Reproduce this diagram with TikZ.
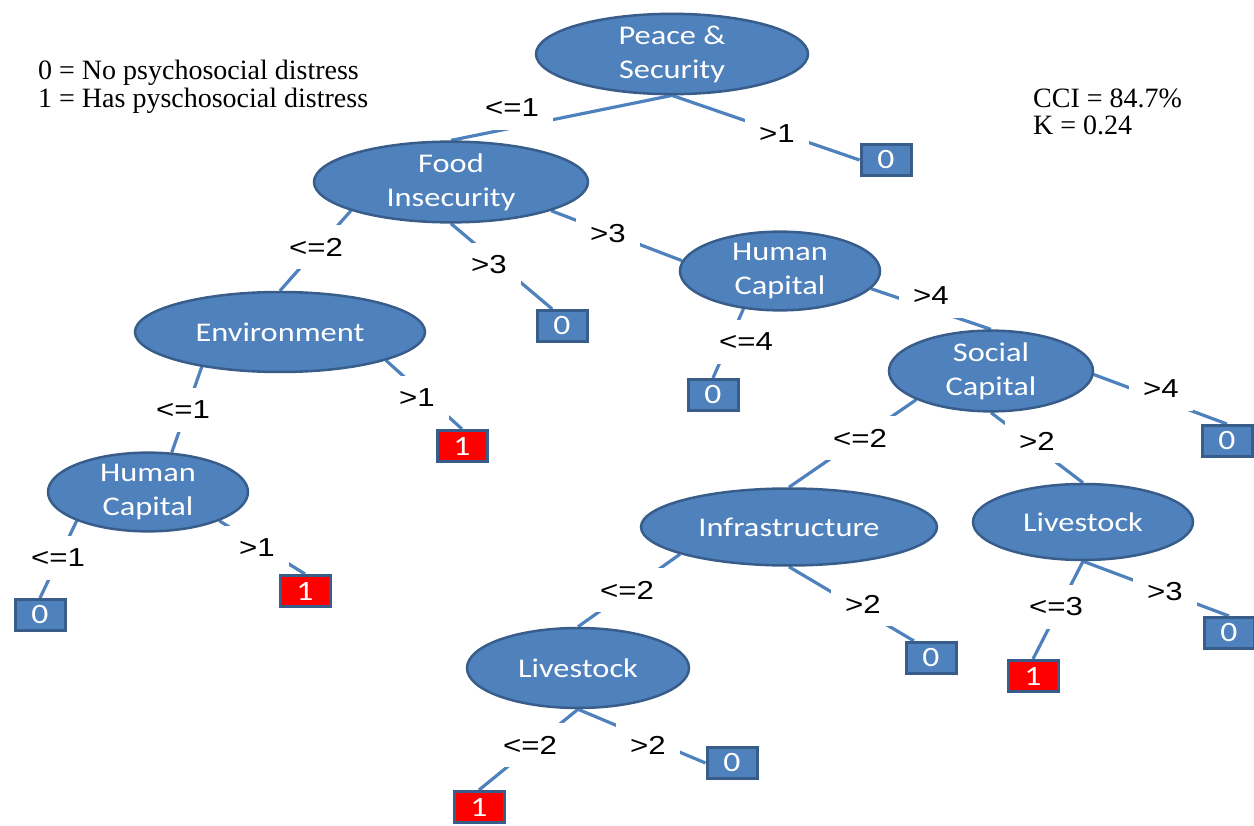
\documentclass[tikz,border=0pt]{standalone}
\usepackage{fontspec}
\usetikzlibrary{shapes.geometric}
\newfontfamily\nodefont[FakeStretch=1.2]{Carlito}
\newfontfamily\labelfont[FakeStretch=1.2]{Liberation Sans}
\newfontfamily\notefont{Liberation Serif}
\definecolor{nodeblue}{HTML}{4F81BD}
\definecolor{nodeborder}{HTML}{385D8A}
\definecolor{edgeblue}{HTML}{4F81BD}
\definecolor{leafred}{HTML}{FF0000}
\pgfdeclarelayer{edges}
\pgfdeclarelayer{labels}
\pgfsetlayers{edges,labels,main}
\tikzset{
  split/.style={ellipse, draw=nodeborder, line width=2.5pt, fill=nodeblue,
    text=white, inner sep=0pt, align=center,
    font=\nodefont\fontsize{27}{34}\selectfont},
  leaf/.style={rectangle, draw=nodeborder, line width=3pt, fill=nodeblue,
    text=white, inner sep=0pt, minimum width=50pt, minimum height=31pt,
    font=\nodefont\fontsize{28}{32}\selectfont},
  leafhit/.style={leaf, fill=leafred},
  edge/.style={draw=edgeblue, line width=3.2pt},
  cond/.style={fill=white, inner xsep=14pt, inner ysep=0pt, minimum height=44pt,
    font=\labelfont\fontsize{26}{30}\selectfont},
  note/.style={anchor=west, align=left, inner sep=0pt,
    font=\notefont\fontsize{28}{27.5}\selectfont}
}
\begin{document}
\begin{tikzpicture}[x=1pt, y=-1pt]
\useasboundingbox (0,0) rectangle (1254,826);

% split nodes
\node[split, minimum width=272pt, minimum height=80pt] (root) at (672,54) {Peace \&\\Security};
\node[split, minimum width=274pt, minimum height=80pt] (food) at (451,182) {Food\\Insecurity};
\node[split, minimum width=200pt, minimum height=78pt] (hc1) at (780,271) {Human\\Capital};
\node[split, minimum width=290pt, minimum height=80pt] (env) at (280,332) {Environment};
\node[split, minimum width=204pt, minimum height=78pt] (soc) at (991,371) {Social\\Capital};
\node[split, minimum width=200pt, minimum height=76pt] (hc2) at (148,492) {Human\\Capital};
\node[split, minimum width=296pt, minimum height=77pt] (infra) at (789,527) {Infrastructure};
\node[split, minimum width=220pt, minimum height=76pt] (lvA) at (1083,522) {Livestock};
\node[split, minimum width=222pt, minimum height=80pt] (lvB) at (578,668) {Livestock};

% leaves
\node[leaf] (leafA) at (886,160) {0};
\node[leaf] (leafB) at (562,326) {0};
\node[leaf] (leafC) at (713,395) {0};
\node[leafhit] (leafE) at (462,446) {1};
\node[leaf] (leafD) at (1227,441) {0};
\node[leaf] (leafF) at (40,615) {0};
\node[leafhit] (leafG) at (305,591) {1};
\node[leaf] (leafH) at (931,658) {0};
\node[leafhit] (leafI) at (1033,676) {1};
\node[leaf] (leafJ) at (1229,633) {0};
\node[leaf] (leafL) at (732,763) {0};
\node[leafhit] (leafK) at (479,807) {1};

% branches
\begin{pgfonlayer}{edges}
\draw[edge] (root.south) -- (food.north);
\draw[edge] (root.south) -- (leafA.west);
\draw[edge] (food.196) -- (env.north);
\draw[edge] (food.south) -- (leafB.120);
\draw[edge] (food.-16) -- (hc1.174);
\draw[edge] (hc1.226) -- (leafC.north);
\draw[edge] (hc1.-11) -- (soc.north);
\draw[edge] (soc.-2) -- (leafD.north);
\draw[edge] (soc.201) -- (infra.north);
\draw[edge] (soc.south) -- (lvA.north);
\draw[edge] (env.-15) -- (leafE.north);
\draw[edge] (env.204) -- (hc2.59);
\draw[edge] (hc2.202) -- (leafF.north);
\draw[edge] (hc2.-22) -- (leafG.north);
\draw[edge] (infra.194) -- (lvB.north);
\draw[edge] (infra.south) -- (leafH.135);
\draw[edge] (lvA.south) -- (leafI.north);
\draw[edge] (lvA.south) -- (leafJ.north);
\draw[edge] (lvB.south) -- (leafK.north);
\draw[edge] (lvB.south) -- (leafL.west);
\end{pgfonlayer}

% branch conditions
\begin{pgfonlayer}{labels}
\node[cond] (c1) at (512,108) {<=1};
\node[cond] (c2) at (777,134) {>1};
\node[cond] (c3) at (316,247) {<=2};
\node[cond] (c4) at (489,265) {>3};
\node[cond] (c5) at (608,234) {>3};
\node[cond] (c6) at (931,296) {>4};
\node[cond] (c7) at (746,342) {<=4};
\node[cond] (c8) at (183,410) {<=1};
\node[cond] (c9) at (417,398) {>1};
\node[cond] (c10) at (860,438) {<=2};
\node[cond] (c11) at (1037,441) {>2};
\node[cond] (c12) at (1161,389) {>4};
\node[cond] (c13) at (58,558) {<=1};
\node[cond] (c14) at (257,548) {>1};
\node[cond] (c15) at (627,590) {<=2};
\node[cond] (c16) at (863,604) {>2};
\node[cond] (c17) at (1056,607) {<=3};
\node[cond] (c18) at (1165,592) {>3};
\node[cond] (c19) at (530,745) {<=2};
\node[cond] (c20) at (648,745) {>2};
\end{pgfonlayer}

% key and model statistics
\node[note] (key) at (38,87) {0 = No psychosocial distress\\1 = Has pyschosocial distress};
\node[note] (stats) at (1033,112) {CCI = 84.7\%\\K = 0.24};
\end{tikzpicture}
\end{document}
